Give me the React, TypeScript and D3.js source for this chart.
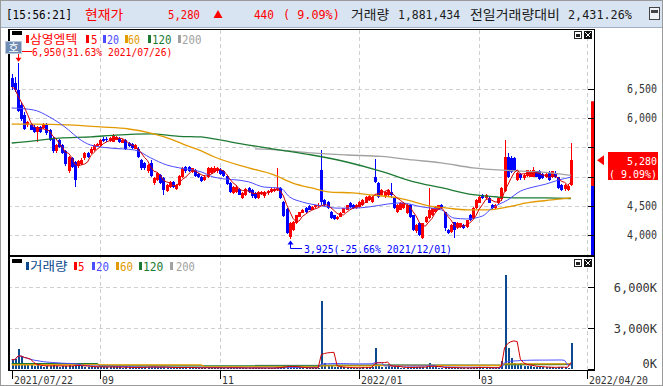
import * as d3 from 'd3'

// daily candles 2021/07/22 ~ 2022/04/20
const open = [
  6690, 6600, 6480, 6230, 6060, 5880, 5900, 5850, 5770, 5850,
  5830, 5880, 5790, 5650, 5430, 5620, 5540, 5440, 5090, 5310,
  5250, 5180, 5220, 5310, 5400, 5400, 5460, 5530, 5540, 5650,
  5650, 5610, 5600, 5630, 5660, 5580, 5630, 5570, 5560, 5480,
  5480, 5280, 5230, 5090, 5230, 4890, 4940, 5030, 4970, 4750,
  4820, 4910, 4790, 4850, 5000, 5170, 5160, 5080, 5110, 5040,
  4990, 4950, 4990, 5070, 5080, 5090, 5120, 5100, 5010, 4890,
  4720, 4740, 4780, 4640, 4690, 4800, 4770, 4720, 4640, 4700,
  4660, 4720, 4740, 4760, 4770, 4810, 4560, 4450, 3960, 4090,
  4210, 4310, 4380, 4460, 4500, 4430, 4480, 4500, 5110, 4600,
  4560, 4390, 4340, 4280, 4310, 4380, 4430, 4550, 4510, 4460,
  4480, 4520, 4550, 4600, 4570, 4990, 4890, 4690, 4650, 4690,
  4740, 4630, 4400, 4430, 4460, 4380, 4510, 4340, 4060, 4200,
  3950, 4230, 4290, 4340, 4400, 4430, 4510, 4390, 4090, 4050,
  4220, 4130, 4140, 4170, 4130, 4340, 4290, 4460, 4550, 4690,
  4630, 4630, 4510, 4460, 4550, 4610, 4760, 5340, 5320, 5320,
  4950, 5040, 4970, 5010, 5000, 5000, 5090, 5090, 5040, 4990,
  5070, 5000, 5070, 4990, 4860, 4780, 4770, 4850,
]
const high = [
  6750, 6700, 6950, 6280, 6100, 5950, 5920, 5880, 5870, 5870,
  5920, 5910, 5810, 5670, 5560, 5640, 5560, 5460, 5360, 5330,
  5270, 5280, 5310, 5420, 5420, 5500, 5560, 5580, 5640, 5670,
  5680, 5680, 5730, 5700, 5680, 5640, 5650, 5590, 5580, 5560,
  5500, 5300, 5250, 5220, 5280, 4990, 5080, 5050, 4990, 4870,
  4920, 4930, 4880, 5020, 5170, 5190, 5180, 5150, 5130, 5060,
  5010, 5020, 5160, 5170, 5180, 5170, 5140, 5120, 5030, 4900,
  4840, 4850, 4800, 4740, 4800, 4830, 4790, 4740, 4760, 4760,
  4760, 4770, 4800, 4810, 5150, 4830, 4580, 4470, 4230, 4240,
  4350, 4400, 4440, 4480, 4520, 4490, 4520, 4540, 5455, 4620,
  4580, 4410, 4350, 4330, 4390, 4470, 4520, 4570, 4530, 4530,
  4580, 4610, 4660, 4680, 4660, 5300, 4900, 4790, 4760, 4790,
  4890, 4650, 4530, 4570, 4570, 4530, 4530, 4350, 4190, 4220,
  4210, 4320, 4800, 4470, 4490, 4520, 4530, 4400, 4100, 4180,
  4230, 4230, 4210, 4190, 4260, 4360, 4480, 4620, 4670, 4710,
  4700, 4650, 4530, 4530, 4650, 4820, 5630, 5400, 5350, 5340,
  5080, 5060, 5040, 5120, 5110, 5160, 5100, 5110, 5060, 5060,
  5090, 5100, 5090, 5000, 4880, 4870, 4880, 5570,
]
const low = [
  6480, 6450, 6100, 5950, 5800, 5850, 5790, 5740, 5600, 5750,
  5810, 5720, 5610, 5410, 5410, 5490, 5380, 5190, 5060, 5150,
  4830, 5150, 5200, 5290, 5320, 5380, 5440, 5510, 5520, 5600,
  5600, 5600, 5590, 5620, 5580, 5570, 5450, 5500, 5470, 5470,
  5320, 5120, 5120, 5060, 4990, 4860, 4920, 4880, 4690, 4730,
  4800, 4800, 4770, 4840, 4980, 5070, 5080, 5060, 4990, 4970,
  4900, 4930, 4980, 5050, 5060, 5070, 5020, 4990, 4850, 4720,
  4700, 4720, 4680, 4620, 4670, 4720, 4640, 4620, 4620, 4680,
  4640, 4690, 4720, 4740, 4750, 4620, 4310, 4020, 3925, 4070,
  4190, 4300, 4370, 4380, 4420, 4420, 4470, 4480, 4520, 4500,
  4450, 4280, 4260, 4260, 4300, 4370, 4420, 4470, 4450, 4450,
  4470, 4500, 4540, 4590, 4550, 4890, 4630, 4670, 4630, 4670,
  4630, 4440, 4380, 4420, 4450, 4360, 4290, 4070, 4040, 3990,
  3930, 4210, 4280, 4330, 4390, 4420, 4440, 4070, 4020, 4030,
  3950, 4110, 4120, 4100, 4120, 4240, 4280, 4450, 4540, 4610,
  4610, 4540, 4450, 4440, 4530, 4590, 4740, 4980, 5060, 5090,
  4930, 4950, 4950, 5000, 4990, 4990, 4990, 4950, 4960, 4970,
  4920, 4980, 4980, 4780, 4750, 4760, 4750, 4840,
]
const close = [
  6530, 6480, 6130, 5980, 5820, 5930, 5800, 5760, 5850, 5770,
  5900, 5740, 5630, 5430, 5540, 5510, 5400, 5210, 5340, 5170,
  4940, 5260, 5290, 5410, 5340, 5480, 5540, 5560, 5630, 5610,
  5620, 5660, 5710, 5680, 5600, 5620, 5470, 5520, 5490, 5540,
  5340, 5140, 5140, 5200, 5010, 4970, 5060, 4890, 4770, 4850,
  4910, 4830, 4860, 5010, 5150, 5090, 5100, 5140, 5010, 4990,
  4920, 5000, 5140, 5140, 5150, 5150, 5040, 5010, 4870, 4740,
  4820, 4830, 4690, 4720, 4780, 4740, 4660, 4640, 4740, 4740,
  4740, 4760, 4790, 4790, 4800, 4640, 4330, 4040, 4210, 4220,
  4340, 4390, 4430, 4390, 4430, 4480, 4510, 4520, 4560, 4510,
  4460, 4290, 4280, 4310, 4380, 4460, 4510, 4480, 4460, 4510,
  4570, 4600, 4650, 4670, 4650, 4910, 4650, 4770, 4740, 4770,
  4690, 4460, 4510, 4550, 4550, 4510, 4310, 4090, 4170, 4000,
  4200, 4310, 4430, 4460, 4480, 4510, 4460, 4120, 4040, 4170,
  4080, 4210, 4200, 4120, 4250, 4260, 4460, 4600, 4650, 4630,
  4680, 4550, 4460, 4510, 4630, 4800, 5340, 4990, 5080, 5110,
  5060, 4970, 5020, 5110, 5090, 5110, 5000, 4960, 4980, 5050,
  4940, 5090, 5000, 4800, 4770, 4850, 4840, 5280,
]
const volume = [
  680000, 700000, 1460000, 950000, 450000, 420000, 300000, 250000, 310000, 200000,
  180000, 220000, 250000, 300000, 200000, 180000, 200000, 230000, 260000, 200000,
  320000, 260000, 200000, 180000, 150000, 170000, 160000, 140000, 180000, 130000,
  120000, 150000, 170000, 130000, 110000, 100000, 150000, 110000, 100000, 90000,
  140000, 160000, 120000, 130000, 170000, 150000, 120000, 110000, 160000, 120000,
  100000, 90000, 80000, 120000, 150000, 110000, 90000, 80000, 100000, 80000,
  90000, 70000, 110000, 90000, 80000, 90000, 80000, 70000, 100000, 110000,
  90000, 70000, 80000, 70000, 80000, 70000, 80000, 90000, 70000, 60000,
  70000, 60000, 70000, 80000, 160000, 120000, 190000, 240000, 200000, 130000,
  110000, 90000, 80000, 90000, 80000, 70000, 80000, 90000, 4975000, 450000,
  320000, 200000, 150000, 120000, 110000, 120000, 100000, 90000, 80000, 90000,
  100000, 110000, 120000, 130000, 150000, 1550000, 310000, 180000, 150000, 380000,
  160000, 150000, 120000, 100000, 90000, 110000, 120000, 150000, 140000, 130000,
  140000, 110000, 460000, 150000, 110000, 90000, 80000, 130000, 110000, 90000,
  100000, 80000, 70000, 70000, 80000, 90000, 110000, 130000, 140000, 100000,
  90000, 90000, 80000, 90000, 150000, 600000, 6880000, 1560000, 800000, 450000,
  330000, 470000, 250000, 200000, 230000, 180000, 160000, 150000, 130000, 120000,
  140000, 110000, 100000, 180000, 150000, 110000, 77385, 1881434,
]

// longer moving averages: [day index, value]
const ma20Pts = [[0, 6175], [7, 6140], [12, 6020], [18, 5800], [21, 5660], [25, 5540], [31, 5490], [39, 5455], [44, 5320], [49, 5200], [53, 5150], [60, 5080], [64, 4990], [75, 4910], [80, 4820], [85, 4805], [88, 4650], [92, 4565], [98, 4500], [103, 4460], [108, 4460], [113, 4480], [119, 4530], [123, 4550], [130, 4480], [136, 4430], [140, 4290], [144, 4275], [149, 4325], [152, 4460], [157, 4600], [161, 4750], [165, 4820], [169, 4870], [173, 4940], [177, 4990]]
const ma60Pts = [[0, 5900], [7, 5900], [18, 5885], [28, 5850], [37, 5815], [44, 5745], [51, 5630], [55, 5540], [60, 5440], [64, 5340], [75, 5150], [83, 5030], [89, 4890], [95, 4805], [101, 4735], [108, 4720], [114, 4685], [122, 4635], [125, 4600], [132, 4500], [138, 4460], [144, 4430], [151, 4430], [157, 4480], [163, 4550], [171, 4600], [177, 4635]]
const ma120Pts = [[0, 5575], [7, 5610], [15, 5660], [25, 5680], [33, 5710], [44, 5730], [53, 5690], [60, 5680], [64, 5645], [75, 5540], [85, 5455], [95, 5370], [106, 5250], [117, 5090], [127, 4915], [136, 4810], [146, 4690], [154, 4650], [161, 4635], [169, 4635], [177, 4625]]
const ma200Pts = [[77, 5475], [85, 5455], [95, 5405], [106, 5370], [117, 5345], [127, 5285], [136, 5235], [146, 5150], [157, 5105], [167, 5080], [177, 5020]]
const volMa60Pts = [[0, 310000], [60, 300000], [61, 160000], [97, 150000], [98, 230000], [114, 230000], [115, 250000], [155, 255000], [156, 370000], [177, 380000]]
const volMa120Pts = [[0, 400000], [27, 400000], [28, 230000], [97, 220000], [98, 260000], [114, 260000], [115, 275000], [155, 270000], [156, 330000], [177, 340000]]
const volMa200Pts = [[77, 270000], [97, 265000], [98, 290000], [155, 290000], [156, 320000], [177, 330000]]

const dateTickIdx = [0, 28, 66, 110, 148, 182]
const dateTickLabels = ['2021/07/22', '09', '11', '2022/01', '03', '2022/04/20']
const priceTicks = [4000, 4500, 5000, 5500, 6000, 6500]
const volTicks = [0, 3000000, 6000000]

const stockName = '삼영엠텍'
const clock = '15:56:21'
const highDate = '2021/07/26'
const lowDate = '2021/12/01'

const RED = '#ff0000'
const BLUE = '#0000ff'
const C5 = '#d00000'
const C20 = '#4b4bff'
const C60 = '#e39a00'
const C120 = '#1d7a33'
const C200 = '#a2a2a2'
const VOLC = '#0b4a8e'
const GRID = '#cfcfcf'
const MONO = 'DejaVu Sans Mono'
const KR = 'Noto Sans CJK KR'

// text squeezed to a fixed advance per character (the terminal font is narrow)
function Txt({ x, y, s, fill = '#333', size = 12, cw = 6, anchor = 'start', font = MONO, weight = 'normal' }: any) {
  const len = s.length * cw
  const x0 = anchor === 'end' ? x - len : x
  return (
    <text x={x0} y={y} fill={fill} fontSize={size} fontFamily={font} fontWeight={weight}
      textLength={len} lengthAdjust="spacingAndGlyphs">{s}</text>
  )
}

function PanelIcons({ y }: { y: number }) {
  return (
    <g shapeRendering="crispEdges">
      <rect x={574.5} y={y + 0.5} width={7} height={7} fill="#fff" stroke="#222" />
      <rect x={576} y={y + 3} width={4} height={3} fill="#222" />
      <rect x={584} y={y} width={8} height={8} fill="#111" />
      <path d={`M585.5,${y + 1.5}L590.5,${y + 6.5}M590.5,${y + 1.5}L585.5,${y + 6.5}`} stroke="#fff" strokeWidth={1.2} />
    </g>
  )
}

function LegendBar({ x, y, c }: any) {
  return <rect x={x} y={y} width={3} height={8} fill={c} shapeRendering="crispEdges" />
}

export default function App() {
  const W = 663, H = 386
  const PL = 8, PR = 594.5, PT = 29.5, PM = 256, PB = 370
  const n = close.length
  const idx = d3.range(n)

  const x = d3.scaleLinear().domain([0, 182]).range([11.7, 586.7])
  const yP = d3.scaleLinear().domain([4000, 6500]).range([235, 89])
  const yV = d3.scaleLinear().domain([0, 6000000]).range([369, 287])

  const sma = (a: number[], w: number) => idx.map(i => d3.mean(a.slice(Math.max(0, i - w + 1), i + 1)) as number)
  const ma5 = sma(close, 5)
  const vma5 = sma(volume, 5)
  const vma20 = sma(volume, 20)

  const lineP = d3.line<number>().x((_, i) => x(i)).y(d => yP(d))
  const lineV = d3.line<number>().x((_, i) => x(i)).y(d => yV(d))
  const smoothP = d3.line<number[]>().x(d => x(d[0])).y(d => yP(d[1])).curve(d3.curveMonotoneX)
  const lineVPts = d3.line<number[]>().x(d => x(d[0])).y(d => yV(d[1]))

  const last = close[n - 1], prev = close[n - 2]
  const chg = last - prev
  const pct = (chg / prev) * 100
  const ratio = (volume[n - 1] / volume[n - 2]) * 100
  const hiI = d3.maxIndex(high), loI = d3.minIndex(low)
  const hi = high[hiI], lo = low[loI]
  const upLimit = Math.floor((prev * 1.3) / 10) * 10
  const dnLimit = Math.ceil((prev * 0.7) / 10) * 10
  const fmt = d3.format(',')

  const hiText = `${fmt(hi)}(${(((hi - last) / last) * 100).toFixed(2)}% ${highDate})`
  const loText = `${fmt(lo)}(${(((lo - last) / last) * 100).toFixed(2)}% ${lowDate})`
  const hx = Math.round(x(hiI)) + 0.5, hy = yP(hi)
  const lx = Math.round(x(loI)) + 0.5, ly = yP(lo)
  const yc = yP(last)
  // the current price tag hides the axis label beneath it
  const shownPriceTicks = priceTicks.filter(t => Math.abs(yP(t) - yc) > 17)

  return (
    <div style={{ position: 'absolute', left: 0, top: 0 }}>
      <svg width={W} height={H} style={{ display: 'block', background: '#fff' }}>
        <defs>
          <clipPath id="cp"><rect x={PL} y={PT} width={PR - PL} height={PM - PT} /></clipPath>
          <clipPath id="cv"><rect x={PL} y={PM} width={PR - PL} height={PB - PM} /></clipPath>
        </defs>

        {/* header */}
        <rect x={0} y={0} width={W} height={27} fill="#d8e4f1" />
        <line x1={0} x2={W} y1={27.5} y2={27.5} stroke="#9fb0c4" />
        <Txt x={6} y={19} s={`[${clock}]`} fill="#000" size={13} cw={6.6} />
        <Txt x={85} y={19} s="현재가" fill={RED} font={KR} size={13} cw={12.7} />
        <Txt x={200} y={19} anchor="end" s={fmt(last)} fill={RED} size={13} cw={6.4} />
        <path d="M213.5,18L222.5,18L218,10Z" fill={RED} />
        <Txt x={274} y={19} anchor="end" s={fmt(chg)} fill={RED} size={13} cw={6.7} />
        <Txt x={283} y={19} s={`( ${pct.toFixed(2)}%)`} fill={RED} size={13} cw={7.1} />
        <Txt x={351} y={19} s="거래량" fill="#1a1a1a" font={KR} size={13} cw={12.7} />
        <Txt x={398} y={19} s={fmt(volume[n - 1])} fill="#1a1a1a" size={13} cw={6.9} />
        <Txt x={470} y={19} s="전일거래량대비" fill="#1a1a1a" font={KR} size={13} cw={12.85} />
        <Txt x={568} y={19} s={`${d3.format(',.2f')(ratio)}%`} fill="#1a1a1a" size={13} cw={7.1} />
        <rect x={649.5} y={7.5} width={10} height={12} fill="#eef2f6" stroke="#444" shapeRendering="crispEdges" />
        <rect x={651} y={10} width={7} height={3} fill="#444" shapeRendering="crispEdges" />

        {/* window frame */}
        <rect x={0.5} y={0.5} width={W - 1} height={H - 1} fill="none" stroke="#9a9a9a" />

        {/* grid */}
        <g stroke={GRID} strokeDasharray="4,3" shapeRendering="crispEdges">
          {priceTicks.map(t => <line key={t} x1={PL} x2={PR} y1={Math.round(yP(t)) + 0.5} y2={Math.round(yP(t)) + 0.5} />)}
          {volTicks.slice(1).map(t => <line key={t} x1={PL} x2={PR} y1={Math.round(yV(t)) + 0.5} y2={Math.round(yV(t)) + 0.5} />)}
          {dateTickIdx.slice(1).map(t => <line key={t} x1={Math.round(x(t)) + 0.5} x2={Math.round(x(t)) + 0.5} y1={PT} y2={PB} />)}
        </g>

        {/* price panel */}
        <g clipPath="url(#cp)">
          {idx.map(i => {
            const c = close[i] >= open[i] ? RED : BLUE
            const xc = Math.round(x(i))
            const yo = yP(open[i]), ycl = yP(close[i])
            return (
              <g key={i} shapeRendering="crispEdges">
                <line x1={xc + 0.5} x2={xc + 0.5} y1={yP(high[i])} y2={yP(low[i])} stroke={c} />
                <rect x={xc - 1} y={Math.min(yo, ycl)} width={3} height={Math.max(1, Math.abs(yo - ycl))} fill={c} />
              </g>
            )
          })}
          <path d={smoothP(ma200Pts) as string} fill="none" stroke={C200} strokeWidth={1.3} />
          <path d={smoothP(ma120Pts) as string} fill="none" stroke={C120} strokeWidth={1.3} />
          <path d={smoothP(ma60Pts) as string} fill="none" stroke={C60} strokeWidth={1.3} />
          <path d={smoothP(ma20Pts) as string} fill="none" stroke={C20} strokeWidth={1} />
          <path d={lineP(ma5) as string} fill="none" stroke={C5} strokeWidth={1} />
          {/* price limit band */}
          <rect x={591} y={yP(upLimit)} width={3} height={yP(prev) - yP(upLimit)} fill={RED} />
          <rect x={591} y={yP(prev)} width={3} height={yP(dnLimit) - yP(prev)} fill={BLUE} />
        </g>

        {/* high / low markers */}
        <path d={`M${hx},${hy - 3}V51.5H32`} fill="none" stroke={RED} />
        <path d={`M${hx - 3},${hy - 5}H${hx + 3}L${hx},${hy - 1}Z`} fill={RED} />
        <Txt x={32} y={56} s={hiText} fill={RED} size={11} cw={5.85} />
        <path d={`M${lx},${ly + 3}V248.5H302`} fill="none" stroke={BLUE} />
        <path d={`M${lx - 3},${ly + 5}H${lx + 3}L${lx},${ly + 1}Z`} fill={BLUE} />
        <Txt x={304} y={253} s={loText} fill={BLUE} size={11} cw={5.92} />

        {/* volume panel */}
        <g clipPath="url(#cv)">
          {idx.map(i => {
            const xc = Math.round(x(i))
            const yv = yV(volume[i])
            return <rect key={i} x={xc - 0.5} y={yv} width={2} height={Math.max(1, yV(0) - yv)} fill={VOLC} shapeRendering="crispEdges" />
          })}
          <path d={lineVPts(volMa200Pts) as string} fill="none" stroke={C200} strokeWidth={1.3} />
          <path d={lineVPts(volMa120Pts) as string} fill="none" stroke={C120} strokeWidth={1.3} />
          <path d={lineVPts(volMa60Pts) as string} fill="none" stroke={C60} strokeWidth={1.3} />
          <path d={lineV(vma20) as string} fill="none" stroke={C20} strokeWidth={1} />
          <path d={lineV(vma5) as string} fill="none" stroke={C5} strokeWidth={1} />
        </g>

        {/* panel borders */}
        <g stroke="#000" shapeRendering="crispEdges">
          <line x1={PL} x2={PR} y1={PT} y2={PT} />
          <line x1={PL} x2={PR} y1={PM} y2={PM} strokeWidth={2} />
          <line x1={PL} x2={PR} y1={PB} y2={PB} />
          <line x1={9} x2={9} y1={PT} y2={PB} strokeWidth={2} />
          <line x1={PR} x2={PR} y1={PT} y2={PB} />
        </g>

        {/* right axis */}
        <g stroke="#000" shapeRendering="crispEdges">
          {priceTicks.map(t => <line key={t} x1={588} x2={PR} y1={Math.round(yP(t)) + 0.5} y2={Math.round(yP(t)) + 0.5} />)}
          {volTicks.map(t => <line key={t} x1={588} x2={PR} y1={Math.round(yV(t)) + 0.5} y2={Math.round(yV(t)) + 0.5} />)}
        </g>
        {shownPriceTicks.map(t => <Txt key={t} x={657} y={yP(t) + 4} anchor="end" s={fmt(t)} fill="#333" size={11.5} cw={6} />)}
        {volTicks.map(t => <Txt key={t} x={657} y={Math.min(yV(t) + 4.5, 368)} anchor="end" s={`${fmt(t / 1000)}K`} fill="#333" size={11.5} cw={7.2} />)}

        {/* current price */}
        <path d={`M597,${yc}L604,${yc - 5}L604,${yc + 5}Z`} fill={RED} />
        <rect x={608} y={152} width={50} height={28} fill={RED} />
        <Txt x={657} y={165} anchor="end" s={fmt(last)} fill="#fff" size={11} cw={6} />
        <Txt x={657} y={178} anchor="end" s={`( ${pct.toFixed(2)}%)`} fill="#fff" size={11} cw={6} />

        {/* date axis */}
        <g stroke="#000" shapeRendering="crispEdges">
          {dateTickIdx.map(t => <line key={t} x1={Math.round(x(t)) + 0.5} x2={Math.round(x(t)) + 0.5} y1={PB} y2={379} />)}
        </g>
        {dateTickIdx.map((t, k) => <Txt key={t} x={Math.round(x(t)) + 2} y={384} s={dateTickLabels[k]} fill="#333" size={11} cw={5.9} />)}

        {/* price legend */}
        <rect x={12} y={31} width={10} height={4} fill="#000" />
        <LegendBar x={26} y={35} c={RED} />
        <Txt x={30} y={44} s={stockName} fill={RED} font={KR} size={12} cw={11.8} />
        <LegendBar x={86} y={35} c={RED} />
        <Txt x={91} y={44} s="5" fill={RED} size={12} cw={6.5} />
        <LegendBar x={103} y={35} c={C20} />
        <Txt x={107} y={44} s="20" fill={C20} size={12} cw={6} />
        <LegendBar x={125} y={35} c={C60} />
        <Txt x={128} y={44} s="60" fill={C60} size={12} cw={6} />
        <LegendBar x={148} y={35} c={C120} />
        <Txt x={152} y={44} s="120" fill={C120} size={12} cw={6.5} />
        <LegendBar x={178} y={35} c={C200} />
        <Txt x={182} y={44} s="200" fill={C200} size={12} cw={6.5} />

        {/* volume legend */}
        <rect x={12} y={259} width={10} height={4} fill="#000" />
        <LegendBar x={26} y={262} c={VOLC} />
        <Txt x={30} y={271} s="거래량" fill={VOLC} font={KR} size={12} cw={12.5} />
        <LegendBar x={74} y={262} c={RED} />
        <Txt x={78} y={271} s="5" fill={RED} size={12} cw={6.5} />
        <LegendBar x={92} y={262} c={C20} />
        <Txt x={96} y={271} s="20" fill={C20} size={12} cw={6.5} />
        <LegendBar x={116} y={262} c={C60} />
        <Txt x={120} y={271} s="60" fill={C60} size={12} cw={6.5} />
        <LegendBar x={139} y={262} c={C120} />
        <Txt x={143} y={271} s="120" fill={C120} size={12} cw={6.8} />
        <LegendBar x={170} y={262} c={C200} />
        <Txt x={176} y={271} s="200" fill={C200} size={12} cw={6.3} />

        <PanelIcons y={31} />
        <PanelIcons y={259} />

        {/* 호 badge */}
        <rect x={5.5} y={41.5} width={16} height={12} fill="#6f8db3" stroke="#b9cadf" />
        <text x={13.5} y={51.5} textAnchor="middle" fill="#fff" fontSize={11} fontFamily={KR}>호</text>
      </svg>
    </div>
  )
}
